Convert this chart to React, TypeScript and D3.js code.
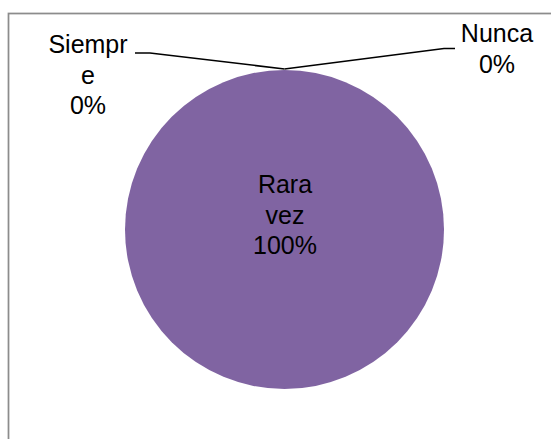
import React from "react";
import * as d3 from "d3";

const categories = ["Siempre", "Rara vez", "Nunca"];
const values = [0, 100, 0];
const labelLines = [["Siempr", "e", "0%"], ["Rara", "vez", "100%"], ["Nunca", "0%"]];
const colors = ["#4F81BD", "#8064A2", "#9BBB59"];

const W = 551;
const H = 439;
const cx = 284.5;
const cy = 229.5;
const R = 159.5;
const fontSize = 25;
const lineH = 30.5;

// label anchors (centre x, first baseline y) and leader line elbows
const labelPos = [
  { x: 88, y: 53, elbow: [150, 53], end: [135, 53] },
  { x: 285, y: 193, elbow: null, end: null },
  { x: 497, y: 42, elbow: [444, 48.5], end: [455, 48.5] },
];

export default function App() {
  const pie = d3.pie<number>().sort(null).value((d) => d)(values);
  const arc = d3.arc<d3.PieArcDatum<number>>().innerRadius(0).outerRadius(R);
  return (
    <svg width={W} height={H} style={{ position: "absolute", left: 0, top: 0 }}>
      <rect x={0} y={0} width={W} height={H} fill="#fff" />
      <rect x={8.5} y={13.5} width={600} height={500} fill="none" stroke="#8c8c8c" strokeWidth={1.75} />
      <g transform={`translate(${cx},${cy})`}>
        {pie.map((p, i) =>
          p.endAngle - p.startAngle > 0 ? (
            <path key={categories[i]} d={arc(p) || ""} fill={colors[i]} />
          ) : null
        )}
      </g>
      {pie.map((p, i) => {
        const lp = labelPos[i];
        if (!lp.elbow || !lp.end) return null;
        const a = p.startAngle;
        const px = cx + R * Math.sin(a);
        const py = cy - R * Math.cos(a);
        const line = d3.line()([[px, py - 1], lp.elbow as [number, number], lp.end as [number, number]]);
        return <path key={"l" + i} d={line || ""} fill="none" stroke="#000" strokeWidth={1.5} />;
      })}
      {labelLines.map((lines, i) => (
        <text
          key={"t" + i}
          x={labelPos[i].x}
          y={labelPos[i].y}
          textAnchor="middle"
          fontFamily="Liberation Sans, Arial, sans-serif"
          fontSize={fontSize}
          fill="#000"
        >
          {lines.map((s, j) => (
            <tspan key={j} x={labelPos[i].x} y={labelPos[i].y + j * lineH}>
              {s}
            </tspan>
          ))}
        </text>
      ))}
    </svg>
  );
}
